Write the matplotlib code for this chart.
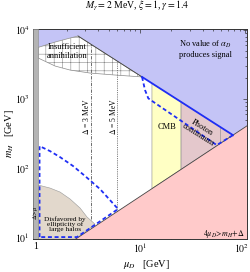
import numpy as np
import matplotlib.pyplot as plt
from matplotlib.ticker import LogLocator, NullFormatter
from matplotlib.transforms import ScaledTranslation

plt.rcParams['font.family'] = ['Liberation Serif', 'DejaVu Serif']
plt.rcParams['mathtext.fontset'] = 'stix'
plt.rcParams['hatch.linewidth'] = 0.4
plt.rcParams['hatch.color'] = '#8a8a8a'

# axis ranges (GeV)
x_lim = (0.94, 105.6)
y_lim = (9.35, 1.05e4)

# boundary of the "no value of alpha_D" region
diag_mu = [2.55, 10.45, 77.5]
diag_mh = [8190, 2090, 300]
# kinematic line 4 mu_D = m_H + Delta
kin_mu = [2.3, 77.5, 110]
kin_mh = [8.9, 300, 426]

# insufficient annihilation (hatched)
ann_top_mu = [1.06, 1.54, 2.14, 2.55]
ann_top_mh = [5600, 6700, 7650, 8190]
ann_bot_mu = [10.45, 5.77, 3.32, 2.14, 1.54, 1.06]
ann_bot_mh = [2090, 2228, 2380, 2630, 3005, 3930]

# ellipticity of large halos
ell_mu = [1.06, 1.376, 1.716, 2.14, 2.67, 3.11, 3.71, 2.42, 1.06]
ell_mh = [56.8, 51.3, 44.9, 35.6, 26.3, 19.5, 15.4, 9.35, 9.35]

# CMB and photon continuum
cmb_mu = [13.0, 24.7, 24.7, 13.0]
cmb_mh = [1690, 908, 95.6, 50.3]
pho_mu = [24.7, 77.5, 24.7]
pho_mh = [908, 300, 95.6]
pho_cut_mu = [58.3, 58.3]
pho_cut_mh = [395, 225.6]

# signal contours (blue dashed)
sig1_mu = [10.45, 11.16, 12.0, 12.94, 54.2, 77.5]
sig1_mh = [2090, 1349, 1023, 944, 215, 300]
sig2_mu = [1.092, 1.092, 1.376, 1.716, 2.285, 2.977, 4.14, 6.16, 2.49, 1.092]
sig2_mh = [10.0, 208, 176, 144, 107, 76.6, 49.6, 25.5, 10.0, 10.0]

# Delta lines
d3_mu, d3_mh = [3.39, 3.39], [9.35, 6220]
d5_mu, d5_mh = [6.06, 6.06], [9.35, 3540]

band_mu = [x_lim[0], 1.06]

fig = plt.figure(figsize=(2.5, 2.72), dpi=100)
ax = fig.add_axes([0.131, 0.121, 0.857, 0.774])
ax.set_xscale('log')
ax.set_yscale('log')
ax.set_xlim(*x_lim)
ax.set_ylim(*y_lim)

# no signal region
blue_mu = ann_top_mu + diag_mu[1:] + [kin_mu[2], kin_mu[2], ann_top_mu[0]]
blue_mh = ann_top_mh + diag_mh[1:] + [kin_mh[2], 2e4, 2e4]
ax.fill(blue_mu, blue_mh, color='#c4c4f6', lw=0, zorder=1)

ax.fill(ann_top_mu + ann_bot_mu, ann_top_mh + ann_bot_mh, facecolor='white',
        edgecolor='#8a8a8a', hatch='++', lw=0.5, zorder=2)

ax.plot(d3_mu, d3_mh, color='#555555', lw=0.6, ls=(0, (4, 1.5, 1, 1.5)), zorder=2.5)
ax.plot(d5_mu, d5_mh, color='#555555', lw=0.6, ls=(0, (1, 1.2)), zorder=2.5)

ax.fill(cmb_mu, cmb_mh, facecolor='#ffffc4', edgecolor='#888888', lw=0.4, zorder=3)
ax.fill(pho_mu, pho_mh, facecolor='#e4c8cc', edgecolor='#888888', lw=0.4, zorder=3)
ax.plot(pho_cut_mu, pho_cut_mh, color='#888888', lw=0.4, zorder=3)
ax.fill(ell_mu, ell_mh, facecolor='#e2d8cc', edgecolor='#999999', lw=0.4, zorder=3)
ax.fill(kin_mu + [kin_mu[2]], kin_mh + [kin_mh[0]], facecolor='#ffcaca',
        edgecolor='none', zorder=3)
ax.plot(kin_mu, kin_mh, color='#444444', lw=0.6, zorder=4)
ax.plot(diag_mu[:2], diag_mh[:2], color='#444444', lw=0.6, zorder=4)
ax.plot(diag_mu[1:], diag_mh[1:], color='#1f2ef5', lw=1.3, zorder=5)

dash = (0, (2.2, 1.5))
ax.plot(sig1_mu, sig1_mh, color='#1f2ef5', lw=1.3, ls=dash, zorder=5)
ax.plot(sig2_mu, sig2_mh, color='#1f2ef5', lw=1.3, ls=dash, zorder=5)

ax.axvspan(*band_mu, facecolor='#b4b4b4', edgecolor='#888888', lw=0.4, zorder=6)

# labels
fs = 6
ax.text(0.160, 0.891, 'Insufficient\nannihilation', transform=ax.transAxes,
        ha='center', va='center', fontsize=fs, linespacing=1.1, zorder=7)
ax.text(0.804, 0.903, 'No value of $\\alpha_D$\nproduces signal', transform=ax.transAxes,
        ha='center', va='center', fontsize=fs, linespacing=1.1, zorder=7)
ax.text(0.249, 0.584, '$\\Delta$ = 3 MeV', transform=ax.transAxes, rotation=90,
        ha='center', va='center', fontsize=5.5, zorder=7)
ax.text(0.375, 0.580, '$\\Delta$ = 5 MeV', transform=ax.transAxes, rotation=90,
        ha='center', va='center', fontsize=5.5, zorder=7)
ax.text(0.625, 0.533, 'CMB', transform=ax.transAxes,
        ha='center', va='center', fontsize=fs, zorder=7)
ax.text(0.780, 0.512, 'Photon\ncontinuum', transform=ax.transAxes, rotation=-32,
        ha='center', va='center', fontsize=fs, linespacing=0.95, zorder=7)
ax.text(0.151, 0.071, 'Disfavored by\nellipticity of\nlarge halos', transform=ax.transAxes,
        ha='center', va='center', fontsize=5.2, linespacing=0.95, zorder=7)
ax.text(0.99, 0.024, '$4\\mu_D\\!>\\!m_H\\!+\\!\\Delta$', transform=ax.transAxes,
        ha='right', va='center', fontsize=5.8, zorder=7)
ax.text(0.015, 0.124, '$\\Delta\\!>\\!\\mu$', transform=ax.transAxes, rotation=90,
        ha='center', va='center', fontsize=4.5, zorder=7)

fig.text(0.547, 0.978, '$M_\\gamma = 2$ MeV, $\\xi = 1$, $\\gamma = 1.4$',
         ha='center', va='center', fontsize=7)

ax.set_xlabel('$\\mu_D$   [GeV]', fontsize=7.5)
ax.set_ylabel('$m_H$   [GeV]', fontsize=7.5)
ax.xaxis.set_label_coords(0.529, -0.09)
ax.yaxis.set_label_coords(-0.078, 0.5)

ax.set_xticks([1, 10, 100])
ax.set_xticklabels(['1', '$10^1$', '$10^2$'])
ax.set_yticks([10, 100, 1000, 10000])
ax.set_yticklabels(['$10^1$', '$10^2$', '$10^3$', '$10^4$'])
ax.xaxis.set_minor_locator(LogLocator(base=10, subs=np.arange(2, 10)))
ax.yaxis.set_minor_locator(LogLocator(base=10, subs=np.arange(2, 10)))
ax.xaxis.set_minor_formatter(NullFormatter())
ax.yaxis.set_minor_formatter(NullFormatter())
ax.tick_params(which='both', direction='in', top=True, right=True, labelsize=7,
               width=0.5, color='#333333', pad=2)
ax.tick_params(which='major', length=3)
ax.tick_params(which='minor', length=1.5)
for s in ax.spines.values():
    s.set_linewidth(0.7)
    s.set_color('#333333')

# keep the last x tick label inside the canvas
last = ax.get_xticklabels()[-1]
last.set_transform(last.get_transform() + ScaledTranslation(-3 / 100, 0, fig.dpi_scale_trans))

fig.savefig('out.png', dpi=100)
